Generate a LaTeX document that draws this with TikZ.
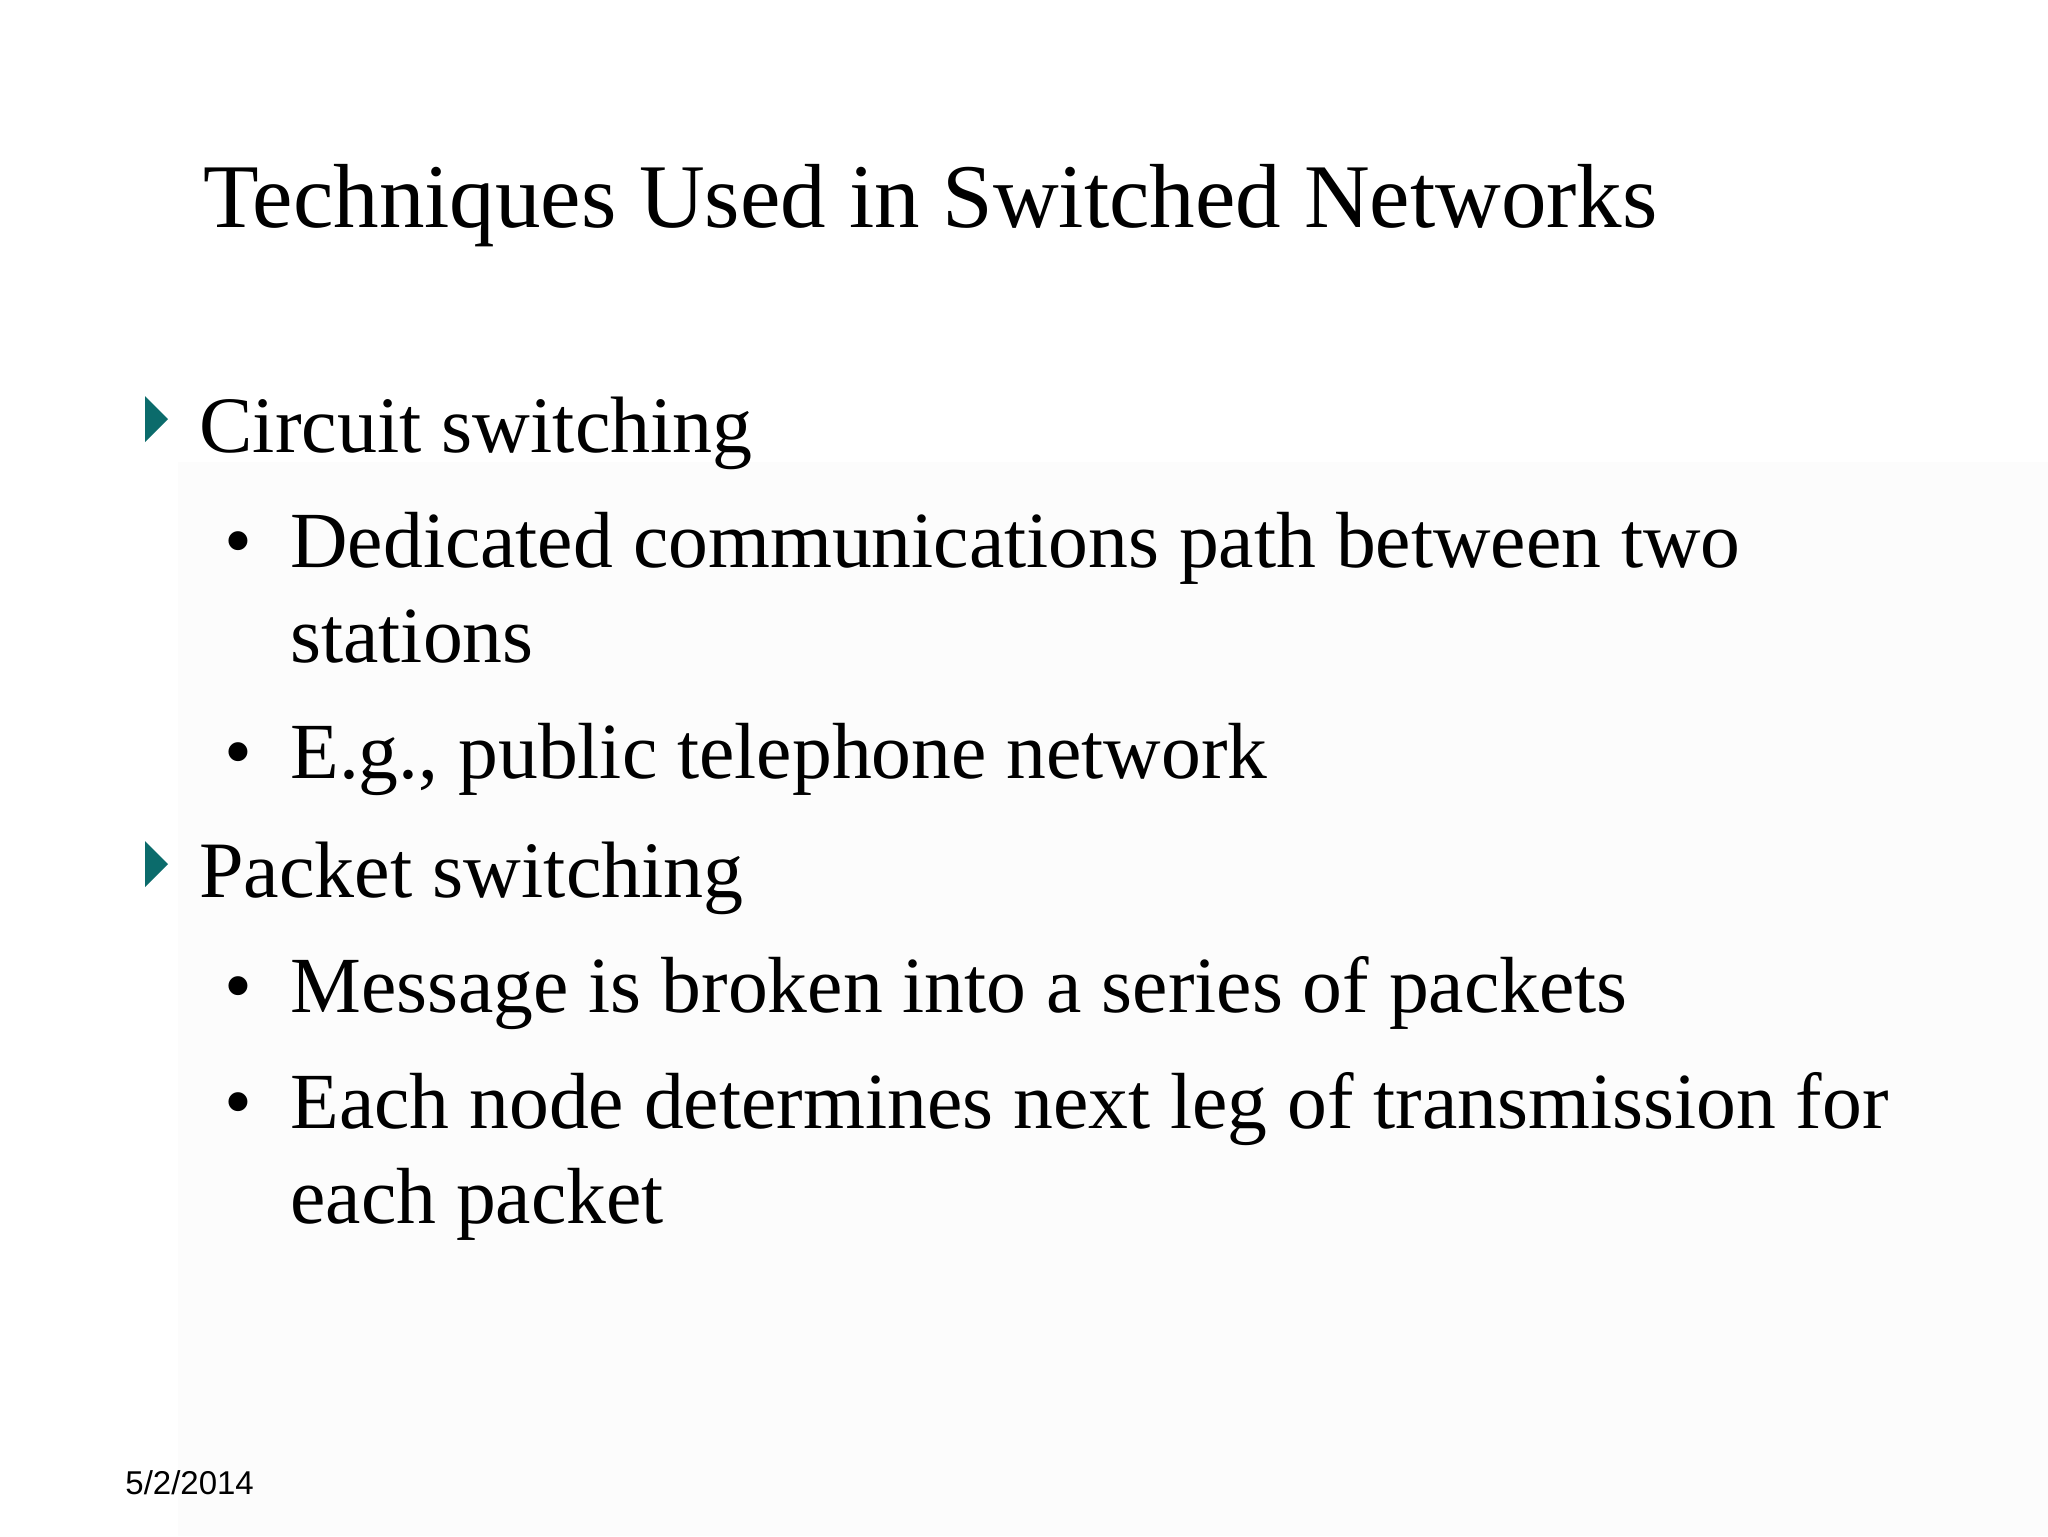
\documentclass[tikz,border=0pt]{standalone}
\usepackage{fontspec}
\setmainfont{Liberation Serif}
\newfontfamily\datefont{Liberation Sans}
\definecolor{teal1}{HTML}{0B6B6B}
\begin{document}
\begin{tikzpicture}[x=0.5pt,y=-0.5pt,
  ttl/.style={anchor=base west,inner sep=0pt,font=\fontsize{45.5}{56}\selectfont},
  lvla/.style={anchor=base west,inner sep=0pt,font=\fontsize{40}{48}\selectfont},
  lvlb/.style={anchor=base west,inner sep=0pt,font=\fontsize{39.8}{48}\selectfont},
  dotb/.style={anchor=base,inner sep=0pt,font=\fontsize{39.8}{48}\selectfont},
  arrb/.style={fill=teal1}]
\useasboundingbox (0,0) rectangle (2048,1536);
\fill[white] (0,0) rectangle (2048,1536);
\fill[black!1] (178,462) rectangle (2048,1536);
\node[ttl] (title) at (203,227) {Techniques Used in Switched Networks};
\fill[arrb] (145,396) -- (168,419) -- (145,442) -- cycle;
\node[lvla] (c) at (199,452) {Circuit switching};
\node[dotb] (d1) at (238,567) {•};
\node[lvlb] (t1) at (290,567) {Dedicated communications path between two};
\node[lvlb] (t1b) at (290,662) {stations};
\node[dotb] (d2) at (238,778) {•};
\node[lvlb] (t2) at (290,778) {E.g., public telephone network};
\fill[arrb] (145,841) -- (168,864) -- (145,887) -- cycle;
\node[lvla] (p) at (199,897) {Packet switching};
\node[dotb] (d3) at (238,1012) {•};
\node[lvlb] (t3) at (290,1012) {Message is broken into a series of packets};
\node[dotb] (d4) at (238,1128) {•};
\node[lvlb] (t4) at (290,1128) {Each node determines next leg of transmission for};
\node[lvlb] (t4b) at (290,1223) {each packet};
\node[anchor=base west,inner sep=0pt,font=\datefont\fontsize{16.5}{20}\selectfont] (date) at (125,1494) {5/2/2014};
\end{tikzpicture}
\end{document}
